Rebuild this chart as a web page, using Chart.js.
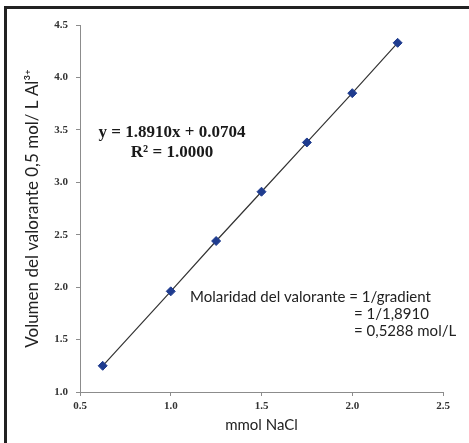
<!DOCTYPE html>
<html>
<head>
<meta charset="utf-8">
<script src="https://cdn.jsdelivr.net/npm/chart.js@4.4.1/dist/chart.umd.min.js"></script>
<style>
  html, body { margin: 0; padding: 0; background: #fff; overflow: hidden; }
  #wrap { position: relative; width: 469px; height: 443px; }
  #frame {
    position: absolute; left: 4px; top: 6px; width: 480px; height: 460px;
    border-top: 3px solid #222; border-left: 3px solid #222;
  }
  #c { position: absolute; left: 0; top: 0; }
</style>
</head>
<body>
<div id="wrap">
  <div id="frame"></div>
  <canvas id="c" width="469" height="443"></canvas>
</div>
<script>
// data
const mmolNaCl = [0.625, 1.0, 1.25, 1.5, 1.75, 2.0, 2.25];
const volumen = [1.25, 1.96, 2.44, 2.91, 3.38, 3.85, 4.33];

const xTicks = [0.5, 1.0, 1.5, 2.0, 2.5];
const yTicks = [1.0, 1.5, 2.0, 2.5, 3.0, 3.5, 4.0, 4.5];

const equation = "y = 1.8910x + 0.0704";
const rSquared = "R\u00B2 = 1.0000";
const molaridad = [
  "Molaridad del valorante = 1/gradient",
  "= 1/1,8910",
  "= 0,5288 mol/L"
];

const points = mmolNaCl.map((x, i) => ({ x: x, y: volumen[i] }));

const axisGray = "#8c8c8c";
const tickFont = { family: "'Liberation Serif', 'Times New Roman', serif", size: 11, weight: "bold" };

/* text notes on the plot */
const notes = {
  id: "notes",
  afterDraw(chart) {
    const ctx = chart.ctx;
    ctx.save();
    ctx.fillStyle = "#1a1a1a";
    ctx.textBaseline = "middle";
    ctx.textAlign = "center";
    ctx.font = "bold 17px 'Liberation Serif', 'Times New Roman', serif";
    ctx.fillText(equation, 172, 133);
    ctx.fillText(rSquared, 172, 153);

    ctx.textAlign = "left";
    ctx.font = "15px Lato, sans-serif";
    ctx.fillStyle = "#222";
    ctx.fillText(molaridad[0], 190, 297);
    ctx.fillText(molaridad[1], 354, 314);
    ctx.fillText(molaridad[2], 354, 331);
    ctx.restore();
  }
};

new Chart(document.getElementById("c"), {
  type: "scatter",
  data: {
    datasets: [{
      data: points,
      showLine: true,
      borderColor: "#333",
      borderWidth: 1.2,
      pointStyle: "rectRot",
      pointRadius: 4.5,
      pointBackgroundColor: "#1f3c8f",
      pointBorderColor: "#1f3c8f",
      pointBorderWidth: 1
    }]
  },
  options: {
    responsive: false,
    animation: false,
    layout: { padding: { left: 0, right: 26, top: 25, bottom: 0 } },
    plugins: { legend: { display: false }, tooltip: { enabled: false } },
    scales: {
      x: {
        type: "linear",
        min: xTicks[0],
        max: xTicks[xTicks.length - 1],
        afterBuildTicks: s => { s.ticks = xTicks.map(v => ({ value: v })); },
        afterFit: s => { s.height = 51; },
        grid: { drawOnChartArea: false, drawTicks: true, tickLength: 4, color: axisGray },
        border: { color: axisGray, width: 1 },
        ticks: { font: tickFont, color: "#333", padding: 4, callback: v => v.toFixed(1) },
        title: {
          display: true,
          text: "mmol NaCl",
          font: { family: "Lato, sans-serif", size: 15 },
          color: "#222",
          padding: { top: 0, bottom: 9 }
        }
      },
      y: {
        type: "linear",
        min: yTicks[0],
        max: yTicks[yTicks.length - 1],
        afterBuildTicks: s => { s.ticks = yTicks.map(v => ({ value: v })); },
        afterFit: s => { s.width = 80; },
        grid: { drawOnChartArea: false, drawTicks: true, tickLength: 4, color: axisGray },
        border: { color: axisGray, width: 1 },
        ticks: { font: tickFont, color: "#333", padding: 8, callback: v => v.toFixed(1) },
        title: {
          display: true,
          text: "Volumen del valorante 0,5 mol/ L Al\u00B3\u207A",
          font: { family: "Lato, sans-serif", size: 17 },
          color: "#222",
          padding: { top: 22, bottom: 0 }
        }
      }
    }
  },
  plugins: [notes]
});
</script>
</body>
</html>
